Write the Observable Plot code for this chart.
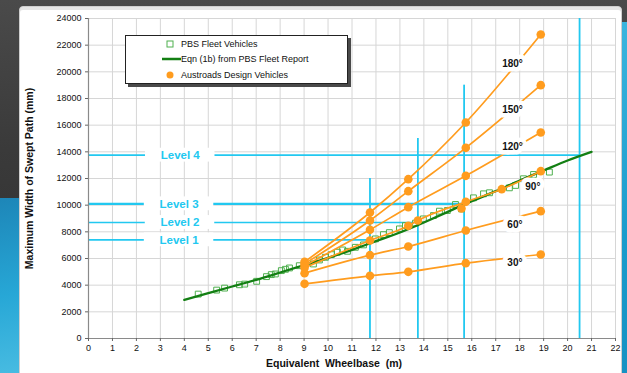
<!DOCTYPE html>
<html>
<head>
<meta charset="utf-8">
<script src="https://cdn.jsdelivr.net/npm/d3@7"></script>
<script src="https://cdn.jsdelivr.net/npm/@observablehq/plot@0.6"></script>
<style>
  body { margin:0; width:627px; height:373px; overflow:hidden; position:relative;
         background: linear-gradient(180deg,#4a4a4a 0%,#3a3a3a 40%,#2c2c2c 100%);
         font-family: "Liberation Sans", Arial, sans-serif; }
  #blueL { position:absolute; left:0; top:198px; width:40px; height:190px;
           background: linear-gradient(170deg,#1d86b8 0%,#27a7d6 50%,#4fc0e4 100%); }
  #blueR { position:absolute; left:612px; top:22px; width:20px; height:360px;
           background: linear-gradient(180deg,#3bb5de 0%,#1a9ccc 60%,#1691c2 100%); }
  #panel { position:absolute; left:19px; top:6px; width:601px; height:380px; background:#fff;
           border:1px solid #cfcfcf; border-radius:4px; box-shadow: inset 0 3px 0 #e6e6e6; }
  #chart { position:absolute; left:0; top:0; }
  #legend { position:absolute; left:125px; top:35px; width:221px; height:47px; background:#fff;
            border:1px solid #222; box-shadow: 3px 3px 0 #4a4a4a; font-size:9px; color:#111; }
  .row { position:absolute; left:0; height:12px; line-height:12px; width:220px; }
  .row span.t { position:absolute; left:55px; white-space:nowrap; }
  .row svg { position:absolute; left:34px; top:0; }
</style>
</head>
<body>
<div id="blueL"></div>
<div id="blueR"></div>
<div id="panel"></div>
<div id="chart"></div>
<div id="legend"></div>
<script>
// ---- data ----
const pbsX = [4.58,5.35,5.68,6.30,6.52,7.02,7.43,7.63,7.80,8.05,8.22,8.39,8.80,9.39,9.64,9.89,10.14,10.39,10.61,10.81,11.14,11.48,11.98,12.31,12.56,12.98,13.23,13.65,13.98,14.40,14.65,14.98,15.32,15.57,16.07,16.49,16.74,17.57,17.83,18.16,18.58,19.24];
const pbsY = [3330,3630,3780,4030,4080,4290,4640,4790,4840,5090,5190,5290,5460,5590,5890,6090,6290,6470,6640,6540,6840,7020,7470,7790,7940,8220,8470,8650,8970,9220,9550,9600,10050,9720,10550,10850,10930,11300,11480,11980,12300,12480];

const eqnX = [4,5,6,7,8,9,10,11,12,13,14,15,16,17,18,19,20,21];
const eqnY = [2900,3400,3900,4400,4950,5500,6050,6650,7300,7950,8700,9500,10300,11050,11850,12600,13350,14000];

const angle30  = [[9.02,4100],[11.75,4700],[13.35,5000],[15.75,5650],[18.88,6300]];
const angle60  = [[9.02,4900],[11.75,6250],[13.35,6900],[15.75,8100],[18.88,9550]];
const angle90  = [[9.02,5300],[11.75,7350],[13.35,8450],[13.75,8850],[15.75,10250],[17.25,11200],[18.88,12550]];
const angle120 = [[9.02,5450],[11.75,8150],[13.35,9850],[15.75,12200],[18.88,15450]];
const angle150 = [[9.02,5600],[11.75,8850],[13.35,11050],[15.75,14300],[18.88,19000]];
const angle180 = [[9.02,5750],[11.75,9450],[13.35,11950],[15.75,16200],[18.88,22800]];
const extraDesign = [[15.57,9750]];

const angleNames  = ["30°","60°","90°","120°","150°","180°"];
const angleLabelX = [17.8,17.8,18.55,17.7,17.7,17.7];
const angleLabelY = [5660,8550,11350,14400,17150,20600];

const levelNames  = ["Level 1","Level 2","Level 3","Level 4"];
const levelY      = [7400,8700,10100,13750];
const levelXEnd   = [11.75,13.75,15.68,20.5];
const levelLabelX = [3.78,3.82,3.78,3.83];

const vertX   = [11.75,13.75,15.68,20.5];
const vertTop = [12000,15000,19000,24000];

const xTicks = d3.range(0,23,1);
const yTicks = d3.range(0,24001,2000);

const legendLabels = ["PBS Fleet Vehicles","Eqn (1b) from PBS Fleet Report","Austroads Design Vehicles"];

// ---- build tables ----
const pbs = pbsX.map((x,i)=>({x, y:pbsY[i]}));
const eqn = eqnX.map((x,i)=>({x, y:eqnY[i]}));
const angleSeries = [angle30,angle60,angle90,angle120,angle150,angle180];
const design = angleSeries.flatMap((s,k)=>s.map(([x,y])=>({x,y,angle:angleNames[k]})));
const designDots = design.concat(extraDesign.map(([x,y])=>({x,y,angle:"extra"})));
const angleLabels = angleNames.map((t,i)=>({t, x:angleLabelX[i], y:angleLabelY[i]}));
const levels = levelNames.map((n,i)=>({n, y:levelY[i], xEnd:levelXEnd[i], lx:levelLabelX[i]}));
const verts = vertX.map((x,i)=>({x, top:vertTop[i]}));

const CYAN = "#22c8f0", ORANGE = "#ff9c1e", GREEN = "#137f13", SQ = "#4fb04f";

const chart = Plot.plot({
  width: 627, height: 373,
  marginLeft: 88, marginRight: 12, marginTop: 18, marginBottom: 35,
  style: {background:"transparent", fontFamily:"'Liberation Sans', Arial, sans-serif", fontSize:"9px", color:"#111"},
  x: {domain:[0,22]},
  y: {domain:[0,24000]},
  marks: [
    Plot.gridX(xTicks, {stroke:"#d6d6d6", strokeOpacity:1}),
    Plot.gridY(yTicks, {stroke:"#d6d6d6", strokeOpacity:1}),
    Plot.ruleY(levels, {y:"y", x1:0, x2:"xEnd", stroke:CYAN, strokeWidth: d => d.n==="Level 3" ? 2.2 : 1.6}),
    Plot.ruleX(verts, {x:"x", y1:0, y2:"top", stroke:CYAN, strokeWidth:1.8}),
    Plot.rect(levels, {x1: d=>d.lx-1.45, x2: d=>d.lx+1.45, y1: d=>d.y-520, y2: d=>d.y+520, fill:"white"}),
    Plot.text(levels, {x:"lx", y:"y", text:"n", fill:CYAN, fontWeight:"bold", fontSize:11.5}),
    Plot.dot(pbs, {x:"x", y:"y", symbol:"square", r:3.3, stroke:SQ, fill:"none", strokeWidth:1}),
    Plot.line(eqn, {x:"x", y:"y", stroke:GREEN, strokeWidth:2.3, curve:"natural"}),
    Plot.line(design, {x:"x", y:"y", z:"angle", stroke:ORANGE, strokeWidth:1.7, curve:"monotone-x"}),
    Plot.dot(designDots, {x:"x", y:"y", r:4.3, fill:ORANGE, stroke:"none"}),
    Plot.text(angleLabels, {x:"x", y:"y", text:"t", fill:"#111", fontWeight:"bold", fontSize:10, stroke:"white", strokeWidth:9}),
    Plot.ruleX([0], {stroke:"#8a8a8a", strokeWidth:1.2}),
    Plot.ruleY([0], {stroke:"#8a8a8a", strokeWidth:1.2}),
    Plot.axisX({ticks:xTicks, tickSize:3, tickPadding:3, label:null, stroke:"#666", fill:"#111"}),
    Plot.axisY({ticks:yTicks, tickSize:3, tickPadding:4, tickFormat:d3.format("d"), label:null, stroke:"#666", fill:"#111"}),
    Plot.text(["Equivalent  Wheelbase  (m)"], {frameAnchor:"bottom", dx:-18, dy:28, fontWeight:"bold", fontSize:10.5, fill:"#111"}),
    Plot.text(["Maximum Width of Swept Path (mm)"], {frameAnchor:"left", textAnchor:"middle", dx:-59, rotate:-90, fontWeight:"bold", fontSize:10.5, fill:"#111"})
  ]
});
document.getElementById("chart").appendChild(chart);

// legend
const leg = document.getElementById("legend");
const rowsTop = [2, 17, 33];
legendLabels.forEach((lab,i)=>{
  const row = document.createElement("div");
  row.className = "row";
  row.style.top = rowsTop[i] + "px";
  let sym;
  if (i===0) sym = `<svg width="22" height="12"><rect x="7" y="3" width="6" height="6" fill="none" stroke="${SQ}" stroke-width="1"/></svg>`;
  else if (i===1) sym = `<svg width="22" height="12"><line x1="2" x2="21" y1="6" y2="6" stroke="${GREEN}" stroke-width="2.5"/></svg>`;
  else sym = `<svg width="22" height="12"><circle cx="10" cy="6" r="3.5" fill="${ORANGE}"/></svg>`;
  row.innerHTML = sym + `<span class="t">${lab}</span>`;
  leg.appendChild(row);
});
</script>
</body>
</html>
